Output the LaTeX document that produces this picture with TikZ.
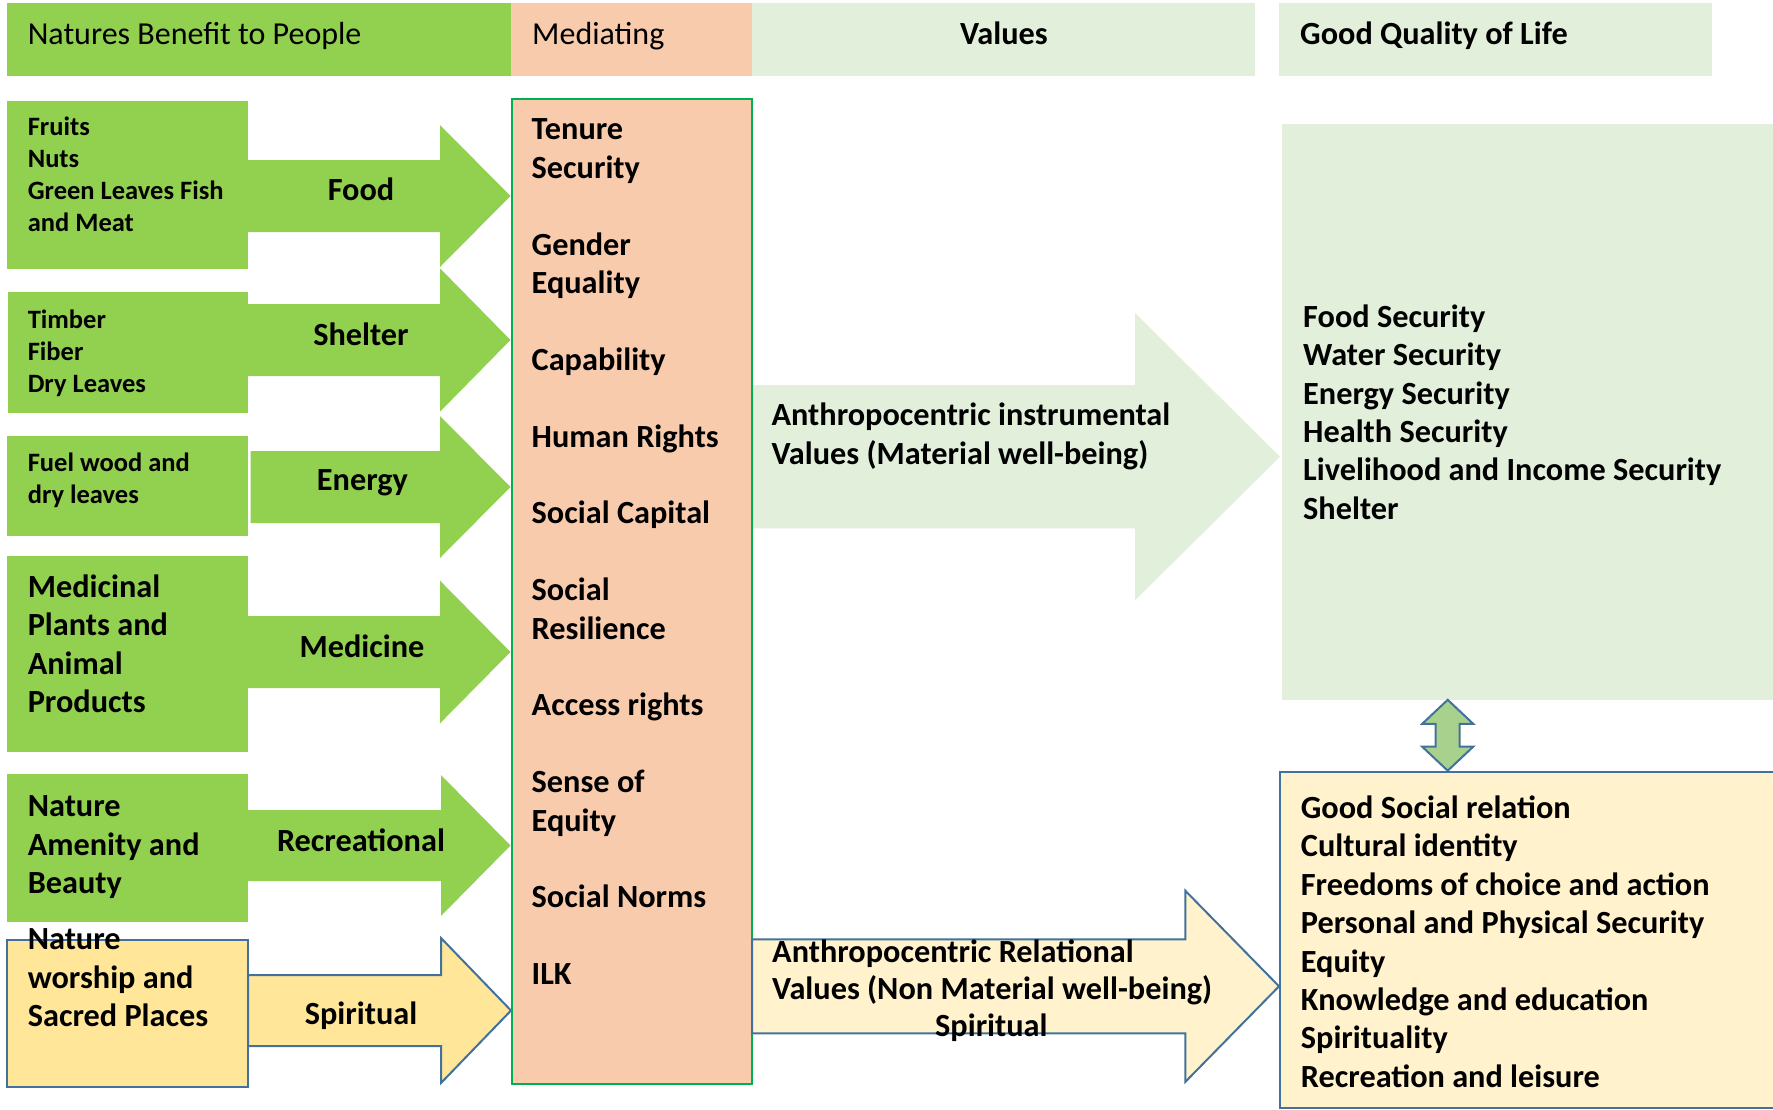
\documentclass[tikz,border=0pt]{standalone}
\usepackage{fontspec}
\setmainfont{Carlito}
\definecolor{nbgreen}{HTML}{92D050}
\definecolor{peach}{HTML}{F8CBAD}
\definecolor{paleg}{HTML}{E2EFDA}
\definecolor{goldy}{HTML}{FFE699}
\definecolor{palay}{HTML}{FFF2CC}
\definecolor{bord}{HTML}{41719C}
\definecolor{medg}{HTML}{00B050}
\definecolor{dblg}{HTML}{A9D18E}
\newcommand\bigf{\fontsize{32.3}{38.4}\selectfont\bfseries}
\newcommand\smallf{\fontsize{26.5}{32}\selectfont\bfseries}
\newcommand\hdrf{\fontsize{32}{38.4}\selectfont}
\newcommand\relf{\fontsize{32.3}{37}\selectfont\bfseries}
% x0 x1 x2 yc halfshaft halfhead style
\newcommand\rArrow[7]{%
  \path[#7] (#1,#4-#5) -- (#2,#4-#5) -- (#2,#4-#6) -- (#3,#4) -- (#2,#4+#6) -- (#2,#4+#5) -- (#1,#4+#5) -- cycle;}
\begin{document}
\begin{tikzpicture}[x=1pt,y=-1pt,
  txt/.style={inner sep=0pt, anchor=north west, align=left, font=\bigf},
  stxt/.style={inner sep=0pt, anchor=north west, align=left, font=\smallf},
  lbl/.style={inner sep=0pt, anchor=base, font=\bigf},
  hdr/.style={inner sep=0pt, anchor=base west, font=\hdrf},
  hdrb/.style={inner sep=0pt, anchor=base west, font=\bigf},
  bline/.style={draw=bord, line width=2pt, line join=miter}]
\useasboundingbox (0,0) rectangle (1773,1109);

% header row
\fill[nbgreen] (6.8,3.4) rectangle (511,75.8);
\fill[peach] (511,3.4) rectangle (752,75.8);
\fill[paleg] (752,3.4) rectangle (1255,75.8);
\fill[paleg] (1279,3.4) rectangle (1712,75.8);
\node[hdr] (hNB) at (27.6,44.4) {Natures Benefit to People};
\node[hdr] (hMed) at (532,44.4) {Mediating};
\node[lbl] (hVal) at (1004,44.4) {Values};
\node[hdrb] (hGQ) at (1300,44.4) {Good Quality of Life};

% left boxes
\fill[nbgreen] (6.8,100.6) rectangle (248,269);
\fill[nbgreen] (7.5,292) rectangle (248,412.7);
\fill[nbgreen] (6.8,436) rectangle (248,535.7);
\fill[nbgreen] (6.8,556) rectangle (248,751.7);
\fill[nbgreen] (6.8,774) rectangle (248,921.7);

% green arrows
\rArrow{248}{440}{510.5}{196}{36}{71}{fill=nbgreen}
\rArrow{248}{440}{510.5}{340}{36}{71.7}{fill=nbgreen}
\rArrow{250.5}{440}{510.5}{487}{36}{71}{fill=nbgreen}
\rArrow{248}{440}{510.5}{652}{36}{71.3}{fill=nbgreen}
\rArrow{248}{441}{510.5}{845.5}{35.5}{70.5}{fill=nbgreen}
% spiritual arrow and box
\rArrow{248}{441}{511}{1010.5}{35.5}{72.5}{fill=goldy, bline}
\path[fill=goldy, bline] (7,940) rectangle (248,1087);

% left texts
\node[stxt] (tFood) at (27.6,113) {\strut Fruits\\Nuts\\Green Leaves Fish\\and Meat};
\node[stxt] (tShel) at (27.6,305.5) {\strut Timber\\Fiber\\Dry Leaves};
\node[stxt] (tEner) at (27.6,449.3) {\strut Fuel wood and\\dry leaves};
\node[txt] (tMedi) at (27.6,570.4) {\strut Medicinal\\Plants and\\Animal\\Products};
\node[txt] (tRecr) at (27.6,789.6) {\strut Nature\\Amenity and\\Beauty};
\node[txt] (tSpir) at (27.6,922.6) {\strut Nature\\worship and\\Sacred Places};

% arrow labels
\node[lbl] (lFood) at (361,200) {Food};
\node[lbl] (lShel) at (361,345) {Shelter};
\node[lbl] (lEner) at (362.5,490.5) {Energy};
\node[lbl] (lMedi) at (362,657) {Medicine};
\node[lbl] (lRecr) at (361,851) {Recreational};
\node[lbl] (lSpir) at (361,1024) {Spiritual};

% mediating column
\path[fill=peach, draw=medg, line width=2pt] (511.5,99) rectangle (752,1084);
\node[txt] (tMed) at (531.5,112.9) {\strut Tenure\\Security\\[38.4pt]Gender\\Equality\\[38.4pt]Capability\\[38.4pt]Human Rights\\[38.4pt]Social Capital\\[38.4pt]Social\\Resilience\\[38.4pt]Access rights\\[38.4pt]Sense of\\Equity\\[38.4pt]Social Norms\\[38.4pt]ILK};

% values arrows
\rArrow{753}{1135}{1280}{456.7}{71.7}{143.7}{fill=paleg}
\node[txt] (tInst) at (771.4,398.7) {\strut Anthropocentric instrumental\\Values (Material well-being)};
\rArrow{752}{1185.4}{1279}{986.3}{47}{95.5}{fill=palay, bline}
\node[inner sep=0pt, anchor=north west, align=left, font=\relf] (tRel) at (772,936.7) {\strut Anthropocentric Relational\\Values (Non Material well-being)\\\hspace*{163pt}Spiritual};

% good quality of life
\fill[paleg] (1282,123.5) rectangle (1780,700);
\node[txt] (tMat) at (1303,300.2) {\strut Food Security\\Water Security\\Energy Security\\Health Security\\Livelihood and Income Security\\Shelter};
\path[fill=palay, bline] (1279.5,771.7) rectangle (1790,1107.5);
\node[txt] (tNon) at (1300.7,791.5) {\strut Good Social relation\\Cultural identity\\Freedoms of choice and action\\Personal and Physical Security\\Equity\\Knowledge and education\\Spirituality\\Recreation and leisure};

% double arrow
\path[fill=dblg, draw=bord, line width=2pt, line join=miter]
  (1447.7,699.8) -- (1473.2,723.8) -- (1459.7,723.8) -- (1459.7,746.7) -- (1473.2,746.7)
  -- (1447.7,770.7) -- (1422.2,746.7) -- (1435.7,746.7) -- (1435.7,723.8) -- (1422.2,723.8) -- cycle;
\end{tikzpicture}
\end{document}
